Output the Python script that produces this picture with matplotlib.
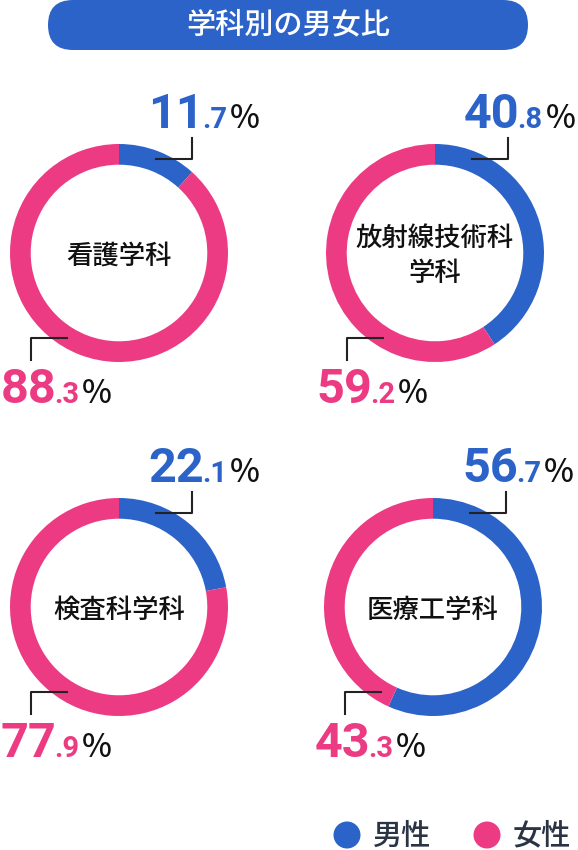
import matplotlib.pyplot as plt
from matplotlib.patches import FancyBboxPatch, Circle

plt.rcParams['font.family'] = ['Noto Sans CJK JP', 'DejaVu Sans']

# data
title = '学科別の男女比'
departments = ['看護学科', '放射線技術科\n学科', '検査科学科', '医療工学科']
male = [11.7, 40.8, 22.1, 56.7]
female = [88.3, 59.2, 77.9, 43.3]
legend_labels = ['男性', '女性']

BLUE = '#2c63c9'
PINK = '#ec3b83'
INK = '#111111'

W, H = 578, 850
fig = plt.figure(figsize=(W / 100, H / 100), dpi=100)

# overlay axes in pixel coords (y down)
bg = fig.add_axes([0, 0, 1, 1])
bg.set_xlim(0, W)
bg.set_ylim(H, 0)
bg.axis('off')
bg.set_zorder(10)

renderer = fig.canvas.get_renderer()

# title pill
bg.add_patch(FancyBboxPatch((48, 0), 480, 50, boxstyle='round,pad=0,rounding_size=25',
                            facecolor=BLUE, edgecolor='none'))
bg.text(288, 25, title, color='white', fontsize=21, fontweight='medium',
        ha='center', va='center')

centers = [(119, 253), (435, 253), (119, 607), (433, 607)]
R = 109


def right_edge(t):
    bb = t.get_window_extent(renderer)
    return bg.transData.inverted().transform((bb.x1, bb.y0))[0]


def pct_label(x, y, value, color, size, align='left'):
    whole, dec = f'{value:.1f}'.split('.')
    parts = [(whole, size, color, 'bold', 'Roboto', 0),
             ('.' + dec, 21, color, 'bold', 'Roboto', -2),
             ('%', 23, INK, 'medium', 'Noto Sans CJK JP', 3)]
    texts = []
    cur = x
    for s, fs, c, fw, fam, gap in parts:
        t = bg.text(cur + gap, y, s, color=c, fontsize=fs, fontweight=fw,
                    family=fam, ha='left', va='baseline')
        cur = right_edge(t)
        texts.append(t)
    if align == 'right':
        shift = x - cur
        for t in texts:
            px, py = t.get_position()
            t.set_position((px + shift, py))


for (cx, cy), name, m, f in zip(centers, departments, male, female):
    ax = fig.add_axes([(cx - R) / W, 1 - (cy + R) / H, 2 * R / W, 2 * R / H])
    ax.pie([m, f], colors=[BLUE, PINK], startangle=90, counterclock=False,
           wedgeprops=dict(width=0.19, linewidth=0))
    ax.set_xlim(-1, 1)
    ax.set_ylim(-1, 1)
    ax.set_aspect('equal')
    ax.axis('off')

    bg.text(cx, cy + 3, name, color=INK, fontsize=19, fontweight='medium',
            ha='center', va='center', linespacing=1.4)

    # leader lines
    bg.plot([cx + 37, cx + 73, cx + 73], [cy - 94, cy - 94, cy - 115], color='#222222', lw=1.5)
    bg.plot([cx - 52, cx - 88, cx - 88], [cy + 85, cy + 85, cy + 107], color='#222222', lw=1.5)

    pct_label(cx + 29, cy - 125, m, BLUE, 35)
    pct_label(cx - 7, cy + 150, f, PINK, 35, align='right')

# legend
for (lx, col), lab in zip([(347, BLUE), (487, PINK)], legend_labels):
    bg.add_patch(Circle((lx, 835), 13.5, facecolor=col, edgecolor='none'))
    bg.text(lx + 26, 836, lab, color='#2b3445', fontsize=21, fontweight='medium',
            ha='left', va='center')

fig.savefig('out.png', dpi=100)
